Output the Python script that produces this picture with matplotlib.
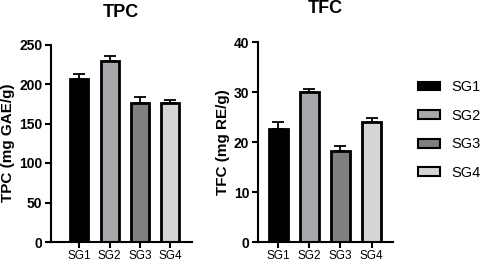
import matplotlib
matplotlib.use("Agg")
import matplotlib.pyplot as plt
from matplotlib.patches import Patch

plt.rcParams['font.family'] = ['Liberation Sans', 'DejaVu Sans']

groups = ["SG1", "SG2", "SG3", "SG4"]
colors = ["#000000", "#a7a7ac", "#808080", "#d5d5d5"]
tpc_values = [206.4, 229.3, 176.2, 176.0]
tpc_errors = [6.0, 6.4, 7.6, 4.0]
tfc_values = [22.7, 30.0, 18.2, 24.1]
tfc_errors = [1.3, 0.7, 1.1, 0.8]

W, H = 484, 265
fig = plt.figure(figsize=(W / 100, H / 100), dpi=100)

def px_axes(x0, x1, ybot, ytop):
    return fig.add_axes([x0 / W, (H - ybot) / H, (x1 - x0) / W, (ybot - ytop) / H])

ax1 = px_axes(50.7, 191.7, 242, 44.5)
ax2 = px_axes(257.7, 392.7, 242, 42.3)

def draw(ax, vals, errs, ymax, step, ylabel, title, xlim, tpad):
    x = list(range(len(groups)))
    ax.bar(x, vals, width=0.6, color=colors, edgecolor="black", linewidth=2.0, zorder=2)
    ax.errorbar(x, vals, yerr=[[0] * len(errs), errs], fmt="none", ecolor="black",
                elinewidth=1.3, capsize=4.5, capthick=1.3, zorder=1)
    ax.set_xlim(*xlim)
    ax.set_ylim(0, ymax)
    ax.set_yticks(range(0, ymax + 1, step))
    ax.set_xticks(x)
    ax.set_xticklabels(groups, fontsize=8.5)
    for lab in ax.get_yticklabels():
        lab.set_fontweight("bold")
        lab.set_fontsize(10)
    for s in ["top", "right"]:
        ax.spines[s].set_visible(False)
    for s in ["left", "bottom"]:
        ax.spines[s].set_linewidth(1.5)
    ax.tick_params(axis="both", width=1.5, length=4, pad=2)
    ax.set_ylabel(ylabel, fontsize=11, fontweight="bold", labelpad=3)
    ax.set_title(title, fontsize=13, fontweight="bold", pad=tpad)

draw(ax1, tpc_values, tpc_errors, 250, 50, "TPC (mg GAE/g)", "TPC", (-0.95, 3.72), 20)
draw(ax2, tfc_values, tfc_errors, 40, 10, "TFC (mg RE/g)", "TFC", (-0.66, 3.68), 21)

handles = [Patch(facecolor=c, edgecolor="black", linewidth=1.5) for c in colors]
fig.legend(handles, groups, loc="center left", bbox_to_anchor=(405 / W, (H - 130) / H),
           frameon=False, fontsize=10.5, handlelength=1.5, handleheight=0.55,
           labelspacing=1.0, handletextpad=0.8)

fig.savefig("out.png", dpi=100)
